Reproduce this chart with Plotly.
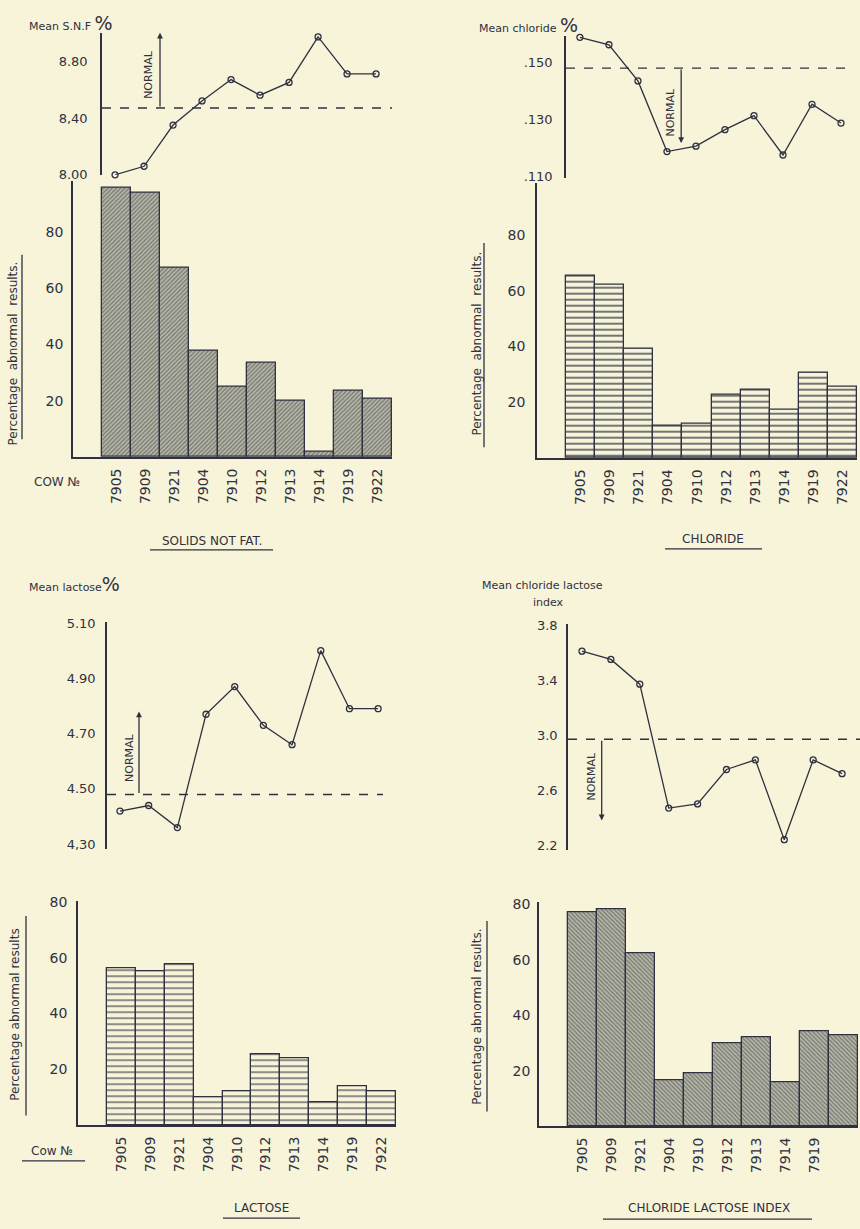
import plotly.graph_objects as go

# ---------------- data ----------------
cows = ["7905", "7909", "7921", "7904", "7910", "7912", "7913", "7914", "7919", "7922"]

snf_mean = [8.00, 8.06, 8.35, 8.52, 8.67, 8.56, 8.65, 8.97, 8.71, 8.71]
snf_abnormal = [95.7, 94.1, 67.4, 37.8, 24.9, 33.7, 20.1, 1.8, 23.5, 20.7]
snf_normal = 8.47
snf_ticks = [8.0, 8.4, 8.8]
snf_ticktext = ["8.00", "8,40", "8.80"]

chl_mean = [0.1588, 0.1562, 0.1435, 0.1187, 0.1206, 0.1264, 0.1313, 0.1175, 0.1353, 0.1287]
chl_abnormal = [65.3, 62.3, 39.3, 11.6, 12.2, 22.8, 24.6, 17.3, 30.7, 25.5]
chl_normal = 0.148
chl_ticks = [0.11, 0.13, 0.15]
chl_ticktext = [".110", ".130", ".150"]

lac_mean = [4.42, 4.44, 4.36, 4.77, 4.87, 4.73, 4.66, 5.00, 4.79, 4.79]
lac_abnormal = [56.1, 55.2, 57.7, 10.2, 12.2, 25.4, 24.0, 8.4, 13.9, 12.2]
lac_normal = 4.48
lac_ticks = [4.3, 4.5, 4.7, 4.9, 5.1]
lac_ticktext = ["4,30", "4.50", "4.70", "4.90", "5.10"]

cli_mean = [3.61, 3.55, 3.37, 2.47, 2.50, 2.75, 2.82, 2.24, 2.82, 2.72]
cli_abnormal = [77.3, 78.2, 62.4, 16.7, 19.2, 30.1, 32.1, 15.8, 34.3, 32.9]
cli_normal = 2.97
cli_ticks = [2.2, 2.6, 3.0, 3.4, 3.8]
cli_ticktext = ["2.2", "2.6", "3.0", "3.4", "3.8"]

bar_ticks = [20, 40, 60, 80]

# ---------------- styling helpers ----------------
W, H = 860, 1229
INK = "#2f3140"
BG = "#f7f4da"
FONT = "DejaVu Sans"


def fx(px):
    return px / W


def fy(py):
    return 1 - py / H


def names(idx):
    s = "" if idx == 1 else str(idx)
    return f"xaxis{s}", f"yaxis{s}", f"x{s}", f"y{s}"


fig = go.Figure()
layout = dict(
    width=W, height=H, margin=dict(l=0, r=0, t=0, b=0),
    paper_bgcolor=BG, plot_bgcolor="rgba(0,0,0,0)",
    showlegend=False, bargap=0,
    font=dict(family=FONT, color=INK, size=13),
)
annotations = []
shapes = []


def line_panel(idx, means, normal, ticks, ticktext, xdom, xr, ydom, yr, standoff):
    xa, ya, xs, ys = names(idx)
    layout[xa] = dict(domain=[fx(xdom[0]), fx(xdom[1])], anchor=ys, type="category",
                      range=xr, showticklabels=False, showline=False, showgrid=False,
                      zeroline=False, ticks="")
    layout[ya] = dict(domain=[fy(ydom[1]), fy(ydom[0])], anchor=xs, range=yr,
                      tickvals=ticks, ticktext=ticktext, showline=True, linecolor=INK,
                      linewidth=1.6, showgrid=False, zeroline=False, ticks="",
                      ticklabelstandoff=standoff, tickfont=dict(size=13, color=INK))
    fig.add_trace(go.Scatter(x=cows, y=means, mode="lines+markers", xaxis=xs, yaxis=ys,
                             cliponaxis=False,
                             line=dict(color=INK, width=1.3),
                             marker=dict(symbol="circle-open", size=6, color=INK,
                                         line=dict(width=1.3, color=INK))))
    shapes.append(dict(type="line", xref=f"{xs} domain", yref=ys, x0=0, x1=1,
                       y0=normal, y1=normal, line=dict(color=INK, width=1.4, dash="dash")))


def bar_panel(idx, values, xdom, ydom, yr, standoff, pattern, tickcats):
    xa, ya, xs, ys = names(idx)
    layout[xa] = dict(domain=[fx(xdom[0]), fx(xdom[1])], anchor=ys, type="category",
                      range=[-1.5, 9.5], tickangle=-90, showline=True, linecolor=INK,
                      linewidth=1.6, showgrid=False, zeroline=False, ticks="",
                      tickvals=tickcats, ticklabelstandoff=4,
                      tickfont=dict(size=14, color=INK))
    layout[ya] = dict(domain=[fy(ydom[1]), fy(ydom[0])], anchor=xs, range=yr,
                      tickvals=bar_ticks, showline=True, linecolor=INK, linewidth=1.6,
                      showgrid=False, zeroline=False, ticks="",
                      ticklabelstandoff=standoff, tickfont=dict(size=14, color=INK))
    fig.add_trace(go.Bar(x=cows, y=values, xaxis=xs, yaxis=ys, width=1.0,
                         marker=dict(color=pattern["bg"], line=dict(color=INK, width=1.3),
                                     pattern=dict(shape=pattern["shape"], fgcolor=pattern["fg"],
                                                  bgcolor=pattern["bg"], size=pattern["size"],
                                                  solidity=pattern["sol"],
                                                  fgopacity=pattern.get("op", 1)))))


hatch1 = dict(shape="/", fg="#74766e", bg="#b6b7a8", size=3, sol=0.4)
hatch4 = dict(shape="\\", fg="#74766e", bg="#b6b7a8", size=3, sol=0.4)
hlines = dict(shape="-", fg=INK, bg=BG, size=6, sol=0.22)
dashes = dict(shape="-", fg="#3a3c48", bg=BG, size=6, sol=0.22, op=0.85)

# Solids not fat
line_panel(1, snf_mean, snf_normal, snf_ticks, snf_ticktext,
           (102, 392), [-0.45, 9.55], (25, 169), [8.0, 9.0], 10)
bar_panel(2, snf_abnormal, (73, 392), (175, 455), [0, 98.2], 5, hatch1, cows)
# Chloride
line_panel(3, chl_mean, chl_normal, chl_ticks, chl_ticktext,
           (566, 850), [-0.48, 9.31], (28, 172), [0.1095, 0.1594], 9)
bar_panel(4, chl_abnormal, (537, 857), (177, 456), [0, 98.8], 7, hlines, cows)
# Lactose
line_panel(5, lac_mean, lac_normal, lac_ticks, lac_ticktext,
           (107, 383), [-0.453, 9.17], (622, 852), [4.283, 5.104], 7)
bar_panel(6, lac_abnormal, (78, 396), (905, 1132), [0, 80.2], 6, dashes, cows)
# Chloride lactose index
line_panel(7, cli_mean, cli_normal, cli_ticks, cli_ticktext,
           (568, 860), [-0.484, 9.62], (624, 853), [2.166, 3.808], 6)
bar_panel(8, cli_abnormal, (539, 858), (906, 1133), [0, 80.8], 4, hatch4, cows[:9])


# NORMAL arrows + labels (in data coords of line panels)
def normal_arrow(idx, xpos, y_tail, y_head, text_x, text_y):
    _, _, xs, ys = names(idx)
    annotations.append(dict(xref=xs, yref=ys, axref=xs, ayref=ys, x=xpos, y=y_head,
                            ax=xpos, ay=y_tail, text="", showarrow=True, arrowhead=2,
                            arrowsize=0.9, arrowwidth=1.3, arrowcolor=INK,
                            standoff=0, startstandoff=0))
    annotations.append(dict(xref=xs, yref=ys, x=text_x, y=text_y, text="NORMAL",
                            textangle=-90, showarrow=False,
                            font=dict(size=11, color=INK)))


normal_arrow(1, 1.55, snf_normal, 9.0, 1.17, 8.71)
normal_arrow(3, 3.49, chl_normal, 0.1217, 3.14, 0.1324)
normal_arrow(5, 0.663, lac_normal, 4.78, 0.349, 4.612)
normal_arrow(7, 0.682, cli_normal, 2.38, 0.336, 2.704)


def text(px, py, s, size=12, angle=0, xanchor="center"):
    annotations.append(dict(xref="paper", yref="paper", x=fx(px), y=fy(py), text=s,
                            showarrow=False, textangle=angle, xanchor=xanchor,
                            yanchor="middle", font=dict(size=size, color=INK)))


def uline(x0, y0, x1, y1, w=1.3):
    shapes.append(dict(type="line", xref="paper", yref="paper", x0=fx(x0), y0=fy(y0),
                       x1=fx(x1), y1=fy(y1), line=dict(color=INK, width=w)))


BIG = "<span style='font-size:19px'>%</span>"
text(27, 15, "Mean S.N.F " + BIG, 11, xanchor="left")
text(477, 17, "Mean chloride " + BIG, 11, xanchor="left")
text(27, 584, "Mean lactose" + BIG, 11, xanchor="left")
text(480, 585, "Mean chloride lactose", 11, xanchor="left")
text(548, 602, "index", 11)

# y titles for bar charts
text(13, 350, "Percentage  abnormal  results.", 12, -90)
uline(22, 250, 22, 437)
text(477, 340, "Percentage  abnormal  results.", 12, -90)
uline(484, 238, 484, 445)
text(15, 1020, "Percentage abnormal results", 12, -90)
uline(26, 920, 26, 1122)
text(477, 1022, "Percentage abnormal results.", 12, -90)
uline(487, 925, 487, 1118)

# cow labels
text(57, 480, "COW №", 12)
text(52, 1158, "Cow №", 12)
uline(22, 1168, 85, 1168)

# panel captions
text(212, 540, "SOLIDS NOT FAT.", 12)
uline(150, 549, 273, 549)
text(713, 538, "CHLORIDE", 12)
uline(665, 548, 762, 548)
text(261, 1216, "LACTOSE", 12)
uline(223, 1226, 300, 1226)
text(709, 1216, "CHLORIDE LACTOSE INDEX", 12)
uline(603, 1227, 812, 1227)

layout["annotations"] = annotations
layout["shapes"] = shapes
fig.update_layout(**layout)
fig.write_html("out.html", config={"displayModeBar": False},
               post_script="document.body.style.margin='0';document.body.style.background='%s';" % BG)
